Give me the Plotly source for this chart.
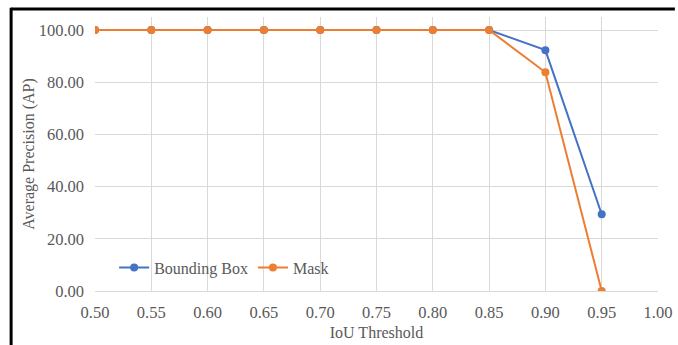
import plotly.graph_objects as go

iou = [0.50, 0.55, 0.60, 0.65, 0.70, 0.75, 0.80, 0.85, 0.90, 0.95]
bbox_ap = [100, 100, 100, 100, 100, 100, 100, 100, 92.3, 29.4]
mask_ap = [100, 100, 100, 100, 100, 100, 100, 100, 83.8, 0.0]

font_family = "'Liberation Serif', 'Times New Roman', serif"
grey = "#595959"

fig = go.Figure()
fig.add_trace(go.Scatter(x=iou, y=bbox_ap, name="Bounding Box", mode="lines+markers",
                         line=dict(color="#4472C4", width=2), marker=dict(size=8, color="#4472C4")))
fig.add_trace(go.Scatter(x=iou, y=mask_ap, name="Mask", mode="lines+markers",
                         line=dict(color="#ED7D31", width=2), marker=dict(size=8, color="#ED7D31")))

fig.update_layout(
    width=678, height=345, autosize=False,
    margin=dict(l=95, r=20, t=17, b=54, autoexpand=False),
    paper_bgcolor="white", plot_bgcolor="white",
    font=dict(family=font_family, size=16, color=grey),
    legend=dict(orientation="h", x=0.034, y=0.085, xanchor="left", yanchor="middle",
                bgcolor="rgba(255,255,255,0)", font=dict(family=font_family, size=16, color=grey),
                itemwidth=30, tracegroupgap=0),
    showlegend=True,
)
fig.update_xaxes(range=[0.5, 1.0], tick0=0.5, dtick=0.05, tickformat=".2f",
                 tickfont=dict(family=font_family, size=16.5, color=grey),
                 showgrid=True, gridcolor="#D9D9D9", gridwidth=1,
                 showline=True, linecolor="#D9D9D9", linewidth=1,
                 zeroline=False, ticks="", ticklabelstandoff=6,
                 title=dict(text="IoU Threshold", standoff=6, font=dict(family=font_family, size=16, color=grey)))
fig.update_yaxes(range=[0, 105], tickvals=[0, 20, 40, 60, 80, 100], tickformat=".2f",
                 tickfont=dict(family=font_family, size=16.5, color=grey),
                 showgrid=True, gridcolor="#D9D9D9", gridwidth=1,
                 showline=False, zeroline=False, ticks="", ticklabelstandoff=10,
                 title=dict(text="Average Precision (AP)", standoff=0, font=dict(family=font_family, size=16, color=grey)))

# outer frame: top and left edges
fig.add_shape(type="line", xref="paper", yref="paper", x0=-0.149, x1=1.03, y0=1.029, y1=1.029,
              line=dict(color="black", width=3), layer="above")
fig.add_shape(type="line", xref="paper", yref="paper", x0=-0.149, x1=-0.149, y0=1.034, y1=-0.3,
              line=dict(color="black", width=3), layer="above")

fig.write_html("out.html", config={"displayModeBar": False},
               post_script="document.body.style.margin='0';document.body.style.overflow='hidden';")
